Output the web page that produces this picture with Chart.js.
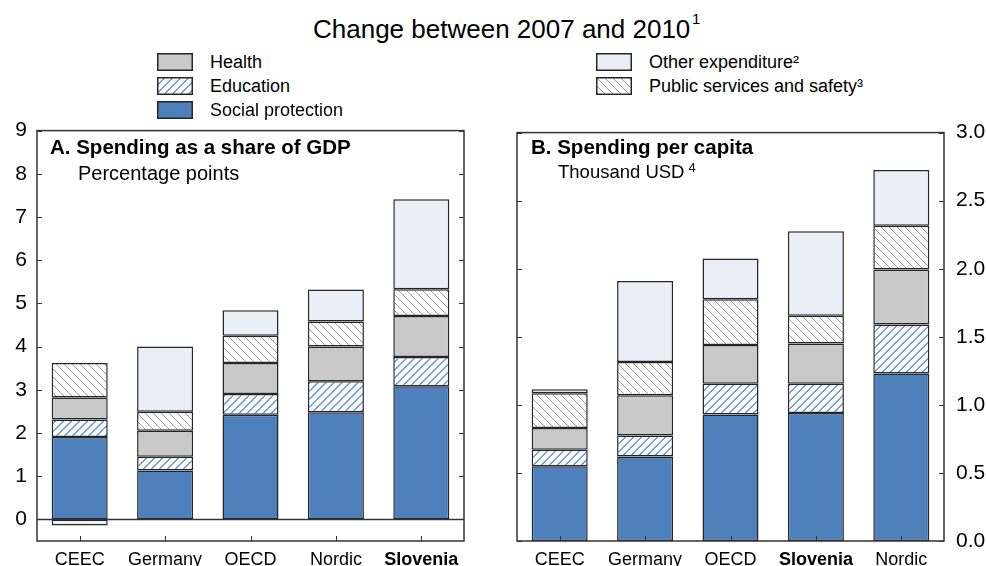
<!DOCTYPE html>
<html>
<head>
<meta charset="utf-8">
<script src="https://cdn.jsdelivr.net/npm/chart.js@4/dist/chart.umd.min.js"></script>
<style>
  body { margin:0; width:986px; height:566px; position:relative; background:#fff;
         font-family:"Liberation Sans", Arial, sans-serif; overflow:hidden; }
  .abs { position:absolute; white-space:nowrap; color:#000; line-height:1; }
  .sw { position:absolute; }
  canvas.chart { position:absolute; }
</style>
</head>
<body>
<canvas class="chart" id="chartA" width="480" height="458" style="left:0;top:108px"></canvas>
<canvas class="chart" id="chartB" width="496" height="458" style="left:490px;top:108px"></canvas>

<div class="abs" style="left:313px;top:16px;font-size:26px;">Change between 2007 and 2010</div>
<div class="abs" style="left:692px;top:11px;font-size:15px;">1</div>

<canvas class="sw" id="swHealth" width="36" height="18" style="left:157px;top:53px"></canvas>
<div class="abs" style="left:210px;top:53px;font-size:18px;">Health</div>
<canvas class="sw" id="swEdu" width="36" height="18" style="left:157px;top:77px"></canvas>
<div class="abs" style="left:210px;top:77px;font-size:18px;">Education</div>
<canvas class="sw" id="swSocial" width="36" height="18" style="left:157px;top:101px"></canvas>
<div class="abs" style="left:210px;top:101px;font-size:18px;">Social protection</div>
<canvas class="sw" id="swOther" width="36" height="18" style="left:596px;top:53px"></canvas>
<div class="abs" style="left:649px;top:53px;font-size:18px;">Other expenditure²</div>
<canvas class="sw" id="swPublic" width="36" height="18" style="left:596px;top:77px"></canvas>
<div class="abs" style="left:649px;top:77px;font-size:18px;">Public services and safety³</div>

<div class="abs" style="left:50px;top:137px;font-size:20.5px;font-weight:bold;">A. Spending as a share of GDP</div>
<div class="abs" style="left:78px;top:163px;font-size:20px;">Percentage points</div>
<div class="abs" style="left:531px;top:137px;font-size:20.5px;font-weight:bold;">B. Spending per capita</div>
<div class="abs" style="left:558px;top:163px;font-size:18.5px;">Thousand USD<span style="font-size:13px;position:relative;top:-6px;margin-left:4px">4</span></div>

<script>
// Panel A: change in spending, percentage points of GDP
const categoriesA = ['CEEC', 'Germany', 'OECD', 'Nordic', 'Slovenia'];
const socialA    = [1.91, 1.13, 2.42, 2.48, 3.08];
const educationA = [0.40, 0.32, 0.48, 0.72, 0.68];
const healthA    = [0.51, 0.60, 0.72, 0.80, 0.95];
const publicA    = [0.80, 0.44, 0.63, 0.58, 0.62];
const otherA     = [-0.14, 1.51, 0.59, 0.74, 2.08];
const yTicksA    = [0, 1, 2, 3, 4, 5, 6, 7, 8, 9];

// Panel B: change in spending per capita, thousand USD
const categoriesB = ['CEEC', 'Germany', 'OECD', 'Slovenia', 'Nordic'];
const socialB    = [0.55, 0.62, 0.93, 0.94, 1.23];
const educationB = [0.12, 0.155, 0.225, 0.215, 0.36];
const healthB    = [0.16, 0.295, 0.285, 0.295, 0.405];
const publicB    = [0.255, 0.245, 0.335, 0.205, 0.32];
const otherB     = [0.03, 0.595, 0.30, 0.62, 0.41];
const yTicksB    = [0, 0.5, 1, 1.5, 2, 2.5, 3];

const FONT = '"Liberation Sans", Arial, sans-serif';
const EDGE = '#262626';
const C_SOCIAL = '#4e80bc';
const C_HEALTH = '#c9c9c9';
const C_OTHER  = '#eaeef7';

// Diagonal hatching on white; w = horizontal thickness of each stroke
function hatch(color, dir, w) {
  const s = 8;
  const c = document.createElement('canvas');
  c.width = s; c.height = s;
  const g = c.getContext('2d');
  g.fillStyle = '#fff';
  g.fillRect(0, 0, s, s);
  g.fillStyle = color;
  for (let i = 0; i < s; i++) {
    const row = dir > 0 ? s - 1 - i : i;
    for (let k = 0; k < w; k++) g.fillRect((i + k) % s, row, 1, 1);
  }
  return g.createPattern(c, 'repeat');
}
const P_EDU = hatch('#6b9de2', 1, 2);
const P_PUB = hatch('#9a9a9a', -1, 1);

function swatch(id, fill) {
  const g = document.getElementById(id).getContext('2d');
  g.fillStyle = fill;
  g.fillRect(0, 0, 36, 18);
  g.strokeStyle = EDGE;
  g.lineWidth = 1.5;
  g.strokeRect(0.75, 0.75, 34.5, 16.5);
}
swatch('swHealth', C_HEALTH);
swatch('swEdu', P_EDU);
swatch('swSocial', C_SOCIAL);
swatch('swOther', C_OTHER);
swatch('swPublic', P_PUB);

function datasets(social, edu, health, pub, other) {
  const base = { borderColor: EDGE, borderWidth: 1.5, borderSkipped: false,
                 categoryPercentage: 1, barPercentage: 0.656 };
  return [
    Object.assign({ label: 'Social protection', data: social, backgroundColor: C_SOCIAL }, base),
    Object.assign({ label: 'Education', data: edu, backgroundColor: P_EDU }, base),
    Object.assign({ label: 'Health', data: health, backgroundColor: C_HEALTH }, base),
    Object.assign({ label: 'Public services and safety', data: pub, backgroundColor: P_PUB }, base),
    Object.assign({ label: 'Other expenditure', data: other, backgroundColor: C_OTHER }, base)
  ];
}

// Frame, inward tick marks and the zero line
const framePlugin = {
  id: 'frame',
  afterDatasetsDraw(chart, args, opts) {
    const { ctx, chartArea: a } = chart;
    const y = chart.scales.y, x = chart.scales.x;
    ctx.save();
    ctx.strokeStyle = '#333';
    ctx.lineWidth = 1.5;
    if (opts.zeroLine) {
      const yz = Math.round(y.getPixelForValue(0)) + 0.5;
      ctx.beginPath(); ctx.moveTo(a.left, yz); ctx.lineTo(a.right, yz); ctx.stroke();
    }
    ctx.strokeRect(a.left, a.top, a.right - a.left, a.bottom - a.top);
    ctx.lineWidth = 1;
    ctx.beginPath();
    y.ticks.forEach(t => {
      const py = Math.round(y.getPixelForValue(t.value)) + 0.5;
      ctx.moveTo(a.left, py); ctx.lineTo(a.left + 5, py);
      ctx.moveTo(a.right, py); ctx.lineTo(a.right - 5, py);
    });
    x.ticks.forEach((t, i) => {
      const px = Math.round(x.getPixelForTick(i)) + 0.5;
      ctx.moveTo(px, a.bottom); ctx.lineTo(px, a.bottom - 5);
    });
    ctx.stroke();
    ctx.restore();
  }
};

function makeChart(id, cats, ds, yMin, yMax, yTicks, side, pad, yWidth, labelPad, zeroLine, fmt) {
  return new Chart(document.getElementById(id), {
    type: 'bar',
    data: { labels: cats, datasets: ds },
    plugins: [framePlugin],
    options: {
      responsive: false,
      animation: false,
      devicePixelRatio: 1,
      layout: { padding: pad },
      plugins: { legend: { display: false }, tooltip: { enabled: false },
                 frame: { zeroLine: zeroLine } },
      scales: {
        x: {
          stacked: true,
          grid: { display: false, drawTicks: false },
          border: { display: false },
          afterFit(s) { s.height = 25; },
          ticks: {
            color: '#000',
            padding: 8,
            maxRotation: 0,
            font: ctx => ({ family: FONT, size: 18,
                            weight: cats[ctx.index] === 'Slovenia' ? 'bold' : 'normal' })
          }
        },
        y: {
          stacked: true,
          position: side,
          min: yMin, max: yMax,
          grid: { display: false, drawTicks: false },
          border: { display: false },
          afterFit(s) { s.width = yWidth; },
          afterBuildTicks(s) { s.ticks = yTicks.map(v => ({ value: v })); },
          ticks: {
            color: '#000',
            padding: labelPad,
            font: { family: FONT, size: 21 },
            callback: fmt
          }
        }
      }
    }
  });
}

makeChart('chartA', categoriesA,
  datasets(socialA, educationA, healthA, publicA, otherA),
  -0.5, 9, yTicksA, 'left', { top: 0, right: 16, left: 0, bottom: 0 }, 37, 10, true,
  v => String(v));

makeChart('chartB', categoriesB,
  datasets(socialB, educationB, healthB, publicB, otherB),
  0, 3, yTicksB, 'right', { top: 0, right: 0, left: 27, bottom: 0 }, 42, 12, false,
  v => Number(v).toFixed(1));
</script>
</body>
</html>
